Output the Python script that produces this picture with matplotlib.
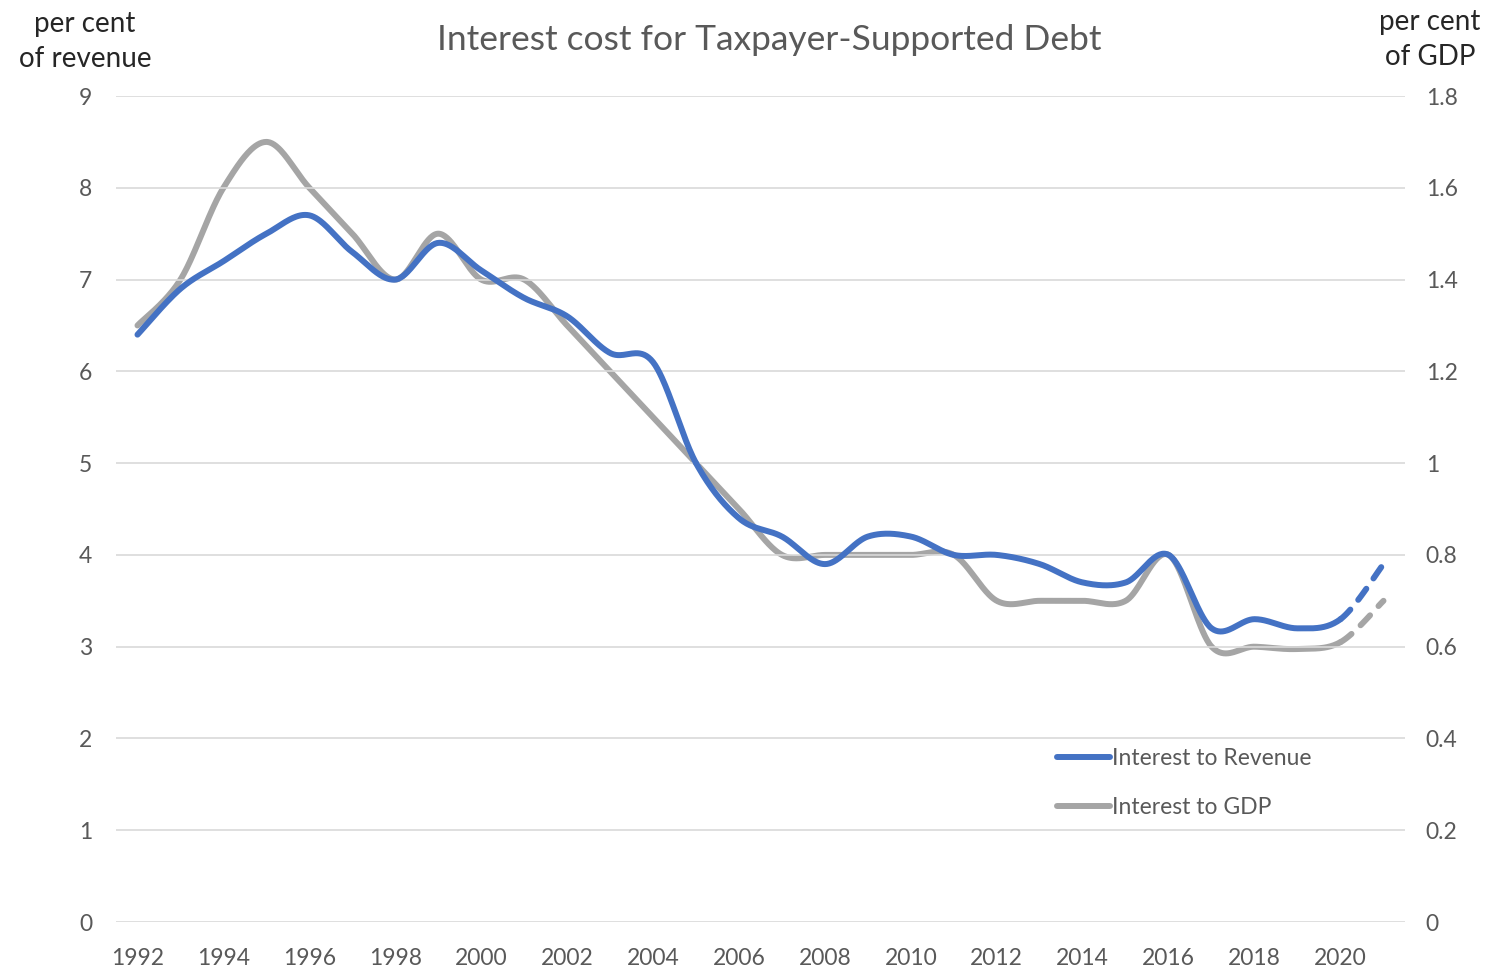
"""
Interest cost for taxpayer-supported debt,
as per cent of revenue (left axis) and per cent of GDP (right axis)
"""
import numpy as np
import matplotlib.pyplot as plt

years = list(range(1992, 2022))
# per cent of revenue
revenue = [6.4, 6.9, 7.2, 7.5, 7.7, 7.3, 7.0, 7.4, 7.1, 6.8,
           6.6, 6.2, 6.1, 5.0, 4.4, 4.2, 3.9, 4.2, 4.2, 4.0,
           4.0, 3.9, 3.7, 3.7, 4.0, 3.2, 3.3, 3.2, 3.3, 3.9]
# per cent of GDP
gdp = [1.3, 1.4, 1.6, 1.7, 1.6, 1.5, 1.4, 1.5, 1.4, 1.4,
       1.3, 1.2, 1.1, 1.0, 0.9, 0.8, 0.8, 0.8, 0.8, 0.8,
       0.7, 0.7, 0.7, 0.7, 0.8, 0.6, 0.6, 0.595, 0.61, 0.7]
last_actual = 2020

BLUE = '#4472C4'
GREY = '#A5A5A5'
TEXT = '#595959'
GRID = '#D9D9D9'


def smooth(x, y, n=40):
    """Excel-style smoothed line: cubic bezier through every point
    (catmull-rom control points)"""
    x = np.asarray(x, float)
    y = np.asarray(y, float)
    px = np.concatenate([[x[0]], x, [x[-1]]])
    py = np.concatenate([[y[0]], y, [y[-1]]])
    xs, ys = [], []
    t = np.linspace(0, 1, n)
    for i in range(len(x) - 1):
        p0 = np.array([px[i + 1], py[i + 1]])
        p3 = np.array([px[i + 2], py[i + 2]])
        c1 = p0 + (p3 - np.array([px[i], py[i]])) / 6
        c2 = p3 - (np.array([px[i + 3], py[i + 3]]) - p0) / 6
        b = ((1 - t) ** 3)[:, None] * p0 + (3 * (1 - t) ** 2 * t)[:, None] * c1 \
            + (3 * (1 - t) * t ** 2)[:, None] * c2 + (t ** 3)[:, None] * p3
        xs.append(b[:, 0])
        ys.append(b[:, 1])
    return np.concatenate(xs), np.concatenate(ys)


def split_plot(ax, x, y, color, label):
    sx, sy = smooth(x, y)
    solid = sx <= last_actual
    dash = sx >= last_actual
    ax.plot(sx[solid], sy[solid], color=color, lw=4.3, solid_capstyle='round',
            label=label, zorder=3)
    ax.plot(sx[dash], sy[dash], color=color, lw=4.3, dash_capstyle='round',
            linestyle=(0, (2.3, 2.1)), zorder=3)


plt.rcParams['font.family'] = ['Lato', 'DejaVu Sans']
fig = plt.figure(figsize=(14.91, 9.67), dpi=100)
ax = fig.add_axes([0.0778, 0.0465, 0.8645, 0.8542])
ax2 = ax.twinx()

# right axis first so the blue line sits on top
split_plot(ax2, years, gdp, GREY, 'Interest to GDP')
split_plot(ax, years, revenue, BLUE, 'Interest to Revenue')
ax.set_zorder(ax2.get_zorder() + 1)
ax.patch.set_visible(False)

ax.set_xlim(1991.5, 2021.5)
ax.set_ylim(0, 9)
ax2.set_ylim(0, 1.8)
ax.set_xticks(range(1992, 2021, 2))
ax.set_yticks(range(0, 10))
ax2.set_yticks(np.arange(0, 1.81, 0.2))
ax2.set_yticklabels(['0', '0.2', '0.4', '0.6', '0.8', '1', '1.2', '1.4', '1.6', '1.8'])

for a in (ax, ax2):
    for s in a.spines.values():
        s.set_visible(False)
    a.tick_params(length=0, labelsize=16.5, labelcolor=TEXT)
ax.tick_params(axis='y', pad=17)
ax.tick_params(axis='x', pad=19)
ax2.tick_params(axis='y', pad=15)
ax.grid(axis='y', color=GRID, lw=1.2)
ax.set_axisbelow(True)

fig.text(0.5158, 0.959, 'Interest cost for Taxpayer-Supported Debt',
         ha='center', va='center', fontsize=25.5, color=TEXT)
fig.text(0.057, 0.957, 'per cent\nof revenue', ha='center', va='center',
         fontsize=20, color='#262626', linespacing=1.45)
fig.text(0.959, 0.959, 'per cent\nof GDP', ha='center', va='center',
         fontsize=20, color='#262626', linespacing=1.45)

h1, l1 = ax.get_legend_handles_labels()
h2, l2 = ax2.get_legend_handles_labels()
leg = ax.legend(h1 + h2, l1 + l2, loc='upper left', bbox_to_anchor=(0.714, 0.236),
                frameon=False, fontsize=16.5, labelcolor=TEXT, handlelength=2.3,
                handletextpad=0.1, labelspacing=1.25)

plt.savefig('out.png', dpi=100)
